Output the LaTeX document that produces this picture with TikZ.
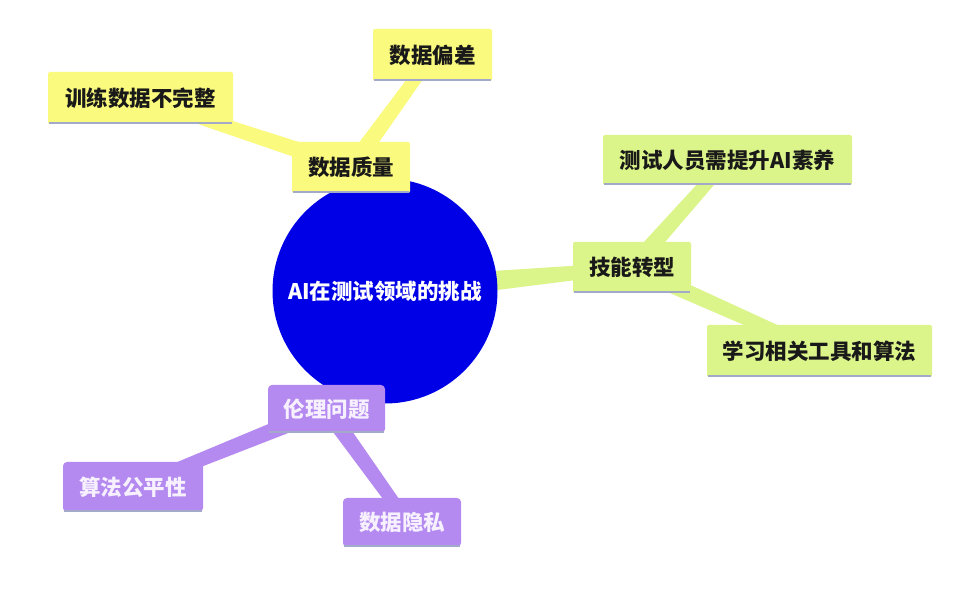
\documentclass[tikz,border=0pt]{standalone}
\usepackage{fontspec}
\setmainfont{Noto Sans CJK SC}
\usetikzlibrary{calc,backgrounds}
\definecolor{yel}{HTML}{FAFA7E}
\definecolor{grn}{HTML}{DCF58A}
\definecolor{pur}{HTML}{B48AF0}
\definecolor{blu}{HTML}{0000E6}
\definecolor{shd}{HTML}{A3A9C9}
\definecolor{ptext}{HTML}{F6F0FF}
\newcommand{\taperlink}[5]{\fill[#5] ($(#1)!#3!90:(#2)$) -- ($(#2)!#4!-90:(#1)$) -- ($(#2)!#4!90:(#1)$) -- ($(#1)!#3!-90:(#2)$) -- cycle;}
\tikzset{
  box/.style={inner sep=0pt, font=\fontsize{21.5}{24}\selectfont\bfseries, text=black!90},
  ybox/.style={box, fill=yel, rounded corners=2pt},
  gbox/.style={box, fill=grn, rounded corners=2pt},
  pbox/.style={box, fill=pur, rounded corners=4pt, text=ptext},
  hub/.style={circle, fill=blu, inner sep=0pt, minimum size=225pt, text=white, font=\fontsize{21.5}{24}\selectfont\bfseries},
  shadeline/.style={draw=shd, line width=2.5pt}
}
\begin{document}
\begin{tikzpicture}[x=1pt,y=1pt]
\useasboundingbox (0,0) rectangle (978,616);
% hub
\node[hub] (c) at (385,325) {AI在测试领域的挑战};
% boxes
\node[ybox, minimum width=185pt, minimum height=52pt] (t1) at (140.5,518) {训练数据不完整};
\node[ybox, minimum width=119pt, minimum height=52pt] (t2) at (432.5,561) {数据偏差};
\node[ybox, minimum width=118pt, minimum height=51pt] (q) at (351,448.5) {数据质量};
\node[gbox, minimum width=249pt, minimum height=50pt] (s1) at (727.5,456) {测试人员需提升AI素养};
\node[gbox, minimum width=118pt, minimum height=51pt] (k) at (632,348.5) {技能转型};
\node[gbox, minimum width=225pt, minimum height=52pt] (s2) at (819.5,265) {学习相关工具和算法};
\node[pbox, minimum width=117pt, minimum height=48pt] (e) at (326.5,207) {伦理问题};
\node[pbox, minimum width=140pt, minimum height=50pt] (e1) at (133,129) {算法公平性};
\node[pbox, minimum width=118pt, minimum height=49pt] (e2) at (402,93.5) {数据隐私};
% bottom shade lines
\foreach \n in {t1,t2,q,s1,k,s2,e,e1,e2}{
  \draw[shadeline] ($(\n.south west)+(1pt,1pt)$) -- ($(\n.south east)+(-1pt,1pt)$);
}
\coordinate (e2in) at ($(e2.center)+(6pt,0)$);
% connectors
\begin{scope}[on background layer]
\fill[white] (0,0) rectangle (978,616);
\taperlink{c}{k}{13pt}{5.5pt}{grn}
\taperlink{q}{t1}{8.5pt}{6pt}{yel}
\taperlink{q}{t2}{8.5pt}{6pt}{yel}
\taperlink{k}{s1}{8.5pt}{6pt}{grn}
\taperlink{k}{s2}{8.5pt}{6pt}{grn}
\taperlink{e}{e1}{8.5pt}{6pt}{pur}
\taperlink{e}{e2in}{8.5pt}{6pt}{pur}
\end{scope}
\end{tikzpicture}
\end{document}
